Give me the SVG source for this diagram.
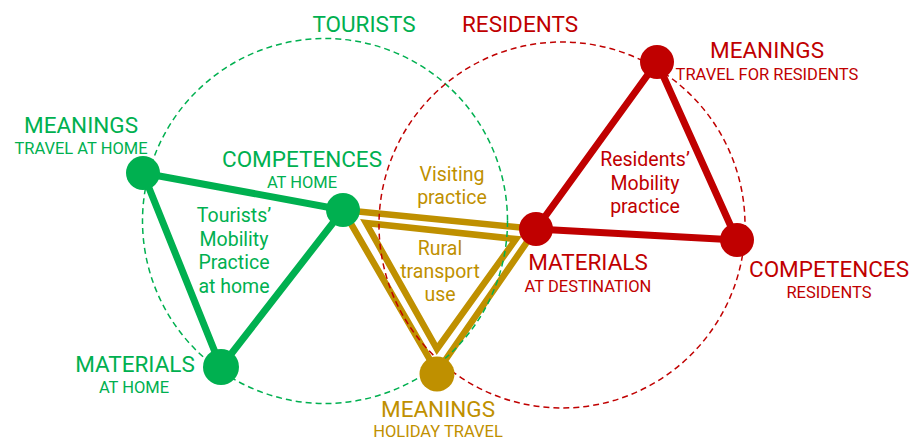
<svg xmlns="http://www.w3.org/2000/svg" width="913" height="441" viewBox="0 0 913 441">
<style>
text{font-family:"Roboto","Liberation Sans",sans-serif;text-anchor:middle}
.big{font-size:22.5px}
.sub{font-size:16.5px}
.body{font-size:19.5px}
.g{fill:#00b050}.r{fill:#c00000}.y{fill:#bf9000}
.gl{stroke:#00b050;stroke-width:7;fill:none;stroke-linecap:round}
.rl{stroke:#c00000;stroke-width:7;fill:none;stroke-linecap:round}
.yl{stroke:#bf9000;stroke-width:6.5;fill:none;stroke-linejoin:miter}
.dash{fill:none;stroke-width:1.5;stroke-dasharray:6 4}
</style>
<rect width="913" height="441" fill="#fff"/>
<g id="connectors">
<line class="gl" x1="143" y1="173" x2="343" y2="210"/>
<line class="gl" x1="143" y1="173" x2="221" y2="367"/>
<line class="gl" x1="221" y1="367" x2="343" y2="210"/>
<line class="rl" x1="657" y1="62" x2="536" y2="229"/>
<line class="rl" x1="657" y1="62" x2="737" y2="240"/>
<line class="rl" x1="536" y1="229" x2="737" y2="240"/>
<polygon class="yl" points="343,210 536,229 437,372"/>
<polygon class="yl" points="366,223 516,239 437,349"/>
</g>
<g id="circles">
<circle class="dash" cx="325" cy="221" r="182.5" stroke="#00b050"/>
<circle class="dash" cx="562" cy="225" r="183" stroke="#c00000"/>
</g>
<g id="tourists-label"><text class="big g" x="364" y="32">TOURISTS</text></g>
<g id="residents-label"><text class="big r" x="520" y="32">RESIDENTS</text></g>
<g id="meanings-travel-at-home">
<circle cx="143" cy="173" r="17" class="g"/>
<text class="big g" x="81" y="133">MEANINGS</text>
<text class="sub g" x="81" y="154">TRAVEL AT HOME</text>
</g>
<g id="competences-at-home">
<circle cx="343" cy="210" r="17" class="g"/>
<text class="big g" x="302" y="167">COMPETENCES</text>
<text class="sub g" x="302" y="188">AT HOME</text>
</g>
<g id="materials-at-home">
<circle cx="221" cy="367" r="18" class="g"/>
<text class="big g" x="135" y="372">MATERIALS</text>
<text class="sub g" x="134" y="393">AT HOME</text>
</g>
<g id="meanings-holiday-travel">
<circle cx="437" cy="374" r="17.5" class="y"/>
<text class="big y" x="438" y="417">MEANINGS</text>
<text class="sub y" x="438" y="437">HOLIDAY TRAVEL</text>
</g>
<g id="materials-at-destination">
<circle cx="536" cy="229" r="17" class="r"/>
<text class="big r" x="588" y="270">MATERIALS</text>
<text class="sub r" x="588" y="292">AT DESTINATION</text>
</g>
<g id="competences-residents">
<circle cx="737" cy="240" r="17" class="r"/>
<text class="big r" x="829" y="277">COMPETENCES</text>
<text class="sub r" x="829" y="298">RESIDENTS</text>
</g>
<g id="meanings-travel-for-residents">
<circle cx="657" cy="62" r="17" class="r"/>
<text class="big r" x="767" y="58">MEANINGS</text>
<text class="sub r" x="767" y="80">TRAVEL FOR RESIDENTS</text>
</g>
<g id="tourists-practice">
<text class="body g" x="234" y="222">Tourists’</text>
<text class="body g" x="234" y="246">Mobility</text>
<text class="body g" x="234" y="269">Practice</text>
<text class="body g" x="234" y="293">at home</text>
</g>
<g id="visiting-practice">
<text class="body y" x="452" y="181">Visiting</text>
<text class="body y" x="452" y="204">practice</text>
</g>
<g id="rural-transport">
<text class="body y" x="440" y="255">Rural</text>
<text class="body y" x="440" y="278">transport</text>
<text class="body y" x="440" y="301">use</text>
</g>
<g id="residents-practice">
<text class="body r" x="645" y="166">Residents’</text>
<text class="body r" x="645" y="190">Mobility</text>
<text class="body r" x="645" y="213">practice</text>
</g>
</svg>
